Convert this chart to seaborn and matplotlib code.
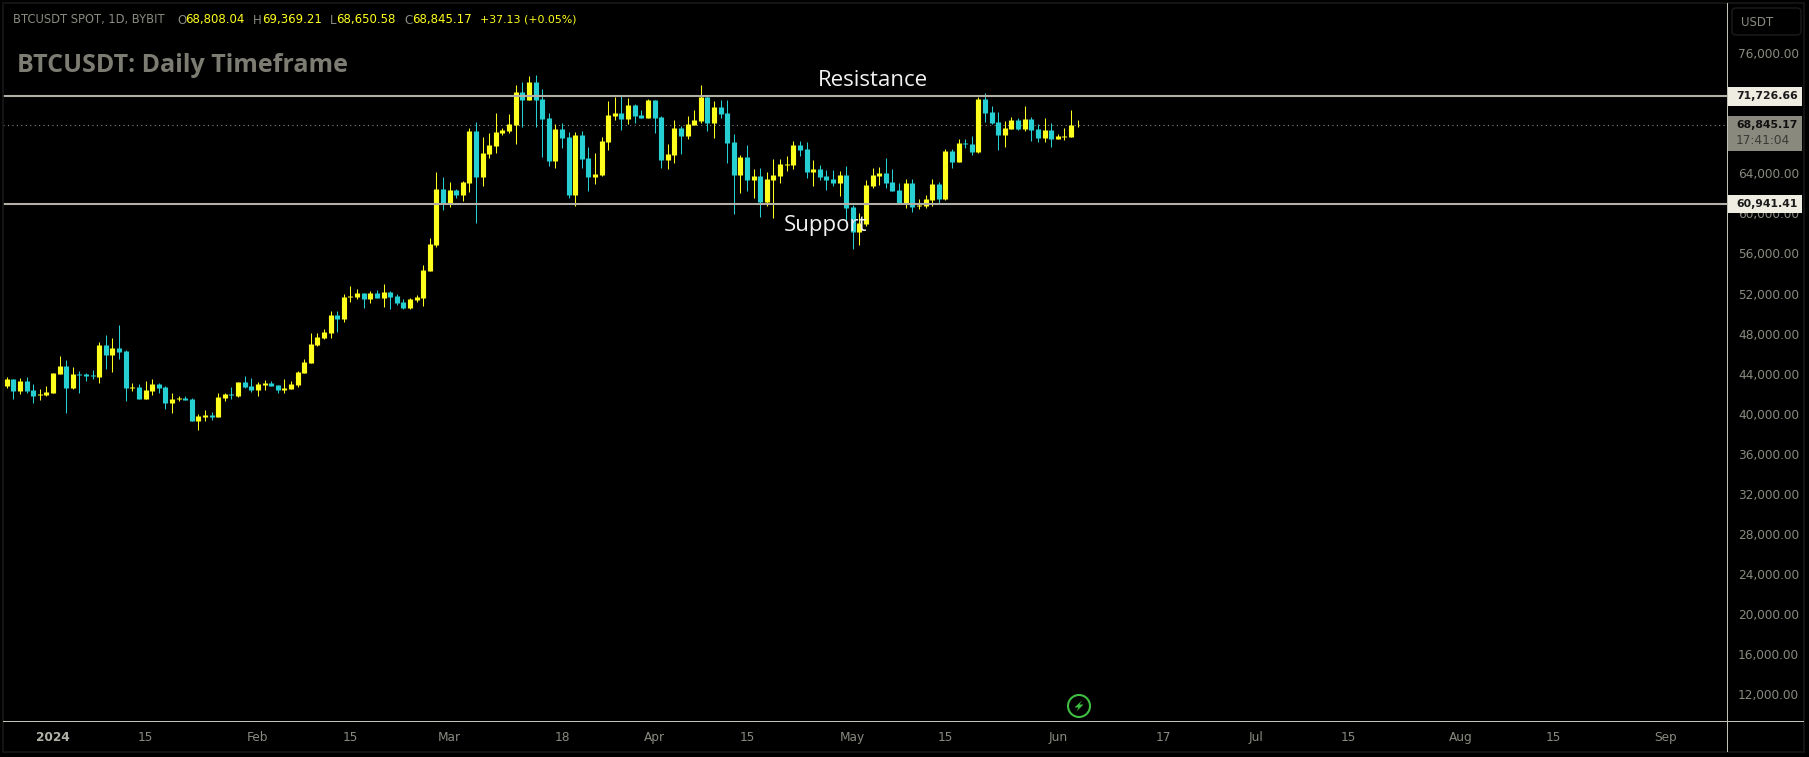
import numpy as np
import pandas as pd
import matplotlib
matplotlib.use("Agg")
import matplotlib.pyplot as plt
from matplotlib.patches import Rectangle, FancyBboxPatch, Circle, Polygon
from matplotlib.transforms import IdentityTransform
import seaborn as sns

# daily candles, 25 Dec 2023 to 4 Jun 2024
opens = [42770,43460,42270,43270,42370,41870,41870,42070,43960,44760,42570,43960,43960,43860,43660,46860,45860,46560,46260,42570,
         42670,41470,42270,42970,42670,41070,41470,41570,41470,39270,39670,39870,39670,41570,41970,41770,43170,42770,42370,42870,
         43070,42870,42370,42470,42870,44060,45060,46860,47560,48060,49860,49460,51650,51650,52050,51450,52050,51550,52150,51750,
         51150,50560,51350,51550,54250,56850,62440,60940,62340,61840,63040,68230,63640,65930,66730,68030,68230,68830,72120,71330,
         73120,71430,69530,65230,68430,67630,61840,67830,65530,63640,63840,67130,69730,70030,69430,70830,69830,69530,71330,69630,
         65330,65830,68530,67730,68830,69230,71630,69030,70630,70030,67130,63840,65630,63340,63740,61140,63340,63740,64830,64830,
         66830,66430,64130,64430,63740,63440,63040,63840,60640,58140,58940,62740,63740,64040,63140,62340,61040,63040,60740,60740,
         61340,62940,61440,66230,65130,67030,66930,66130,71430,70130,69130,67830,68430,69330,68430,69430,68430,67530,68330,67430,
         67630,67630,68808.04]
highs = [43660,43460,43560,43660,42970,42470,42770,44060,45760,45360,44660,44260,44060,44360,47160,47860,47560,48860,46360,43070,
         42970,43270,43460,43070,42770,42070,41770,41770,41570,39970,40370,40170,42070,42070,42670,43170,43760,43560,43170,43360,
         43270,42870,43460,43270,44260,45460,48060,48060,48460,50260,50260,51950,52750,52450,52050,52250,52350,52950,52250,51950,
         51450,51550,51850,54850,57540,64130,63640,63140,62440,63240,68530,69130,67630,68030,70030,68530,69930,72820,73120,73720,
         73820,72420,70030,68930,69030,68130,68130,68230,66630,66030,67630,71230,71630,71820,71530,70930,70330,71430,71330,69730,
         66930,69330,68730,69730,70330,72820,71820,71230,71330,71330,67930,65830,66830,64430,64530,64130,65430,65430,65730,67230,
         67230,67130,65330,64830,64330,64330,64230,64730,60840,60010,63340,64530,64630,65530,64430,63040,63440,63440,61440,61840,
         63440,63140,66430,66430,67430,67430,67730,71630,72020,70730,70130,69230,69630,69530,70730,69630,68930,69530,69030,67930,
         68530,70330,69369.21]
lows = [42570,41470,41970,42070,41070,41370,41770,42070,43960,40070,42470,42070,43270,43460,43070,44460,44160,45460,41270,42270,
        41470,41470,41870,42070,40470,40070,41270,41370,39270,38370,39270,39370,39670,41270,41470,41670,42570,42170,41770,42370,
        42770,42070,42070,42470,42670,44060,45060,46760,47460,47560,48160,49160,51150,51450,50560,51050,51550,50660,50460,50850,
        50460,50460,51150,50750,54250,56650,60340,60640,61540,61240,62140,59040,62740,65530,66030,67830,68030,66930,68630,71330,
        68630,65630,64730,64530,66530,61540,60740,64530,62240,62940,63740,66330,69330,68330,68930,69030,69530,69530,68030,64530,
        64430,65030,65930,67430,68830,69030,68230,67530,69530,65030,59940,62040,62240,61540,59640,60740,59540,63040,64230,64430,
        65730,63540,62740,63340,62340,62740,61740,59340,56450,56850,58740,62540,62840,62540,62240,60940,60540,60140,60440,60540,
        60740,60940,61340,64530,65130,66530,65830,66030,69130,68930,66330,66630,68430,68330,68230,67230,67130,67130,66630,67430,
        67330,67630,68650.58]
closes = [43460,42270,43270,42270,41770,41970,42170,44060,44760,42570,43960,43860,43760,43760,46860,45860,46560,46160,42570,42670,
          41470,42370,42970,42570,41070,41470,41570,41370,39270,39770,39870,39670,41670,41970,41870,43170,42670,42370,42970,43070,
          42770,42370,42570,42970,44160,45160,46960,47660,48160,49860,49460,51650,51750,52050,51450,52050,51550,52150,51650,51050,
          50560,51450,51650,54350,56950,62440,60940,62340,61840,63140,68230,63640,66030,66830,68130,68330,68930,72120,71330,73120,
          71330,69430,65230,68430,67530,61840,67830,65430,63640,63940,67230,69830,70030,69430,70830,69730,69530,71330,69530,65330,
          65930,68530,67730,68930,69330,71630,69030,70630,69930,67030,63840,65630,63340,63740,61140,63440,63840,64930,64930,66830,
          66330,64130,64430,63640,63340,63040,63840,60540,58140,59040,62840,63840,64040,63040,62240,61040,63040,60640,60840,61440,
          62940,61440,66230,65130,67030,66930,66130,71430,70030,69030,67830,68530,69330,68430,69430,68330,67530,68330,67430,67730,
          67730,68830,68845.17]

resistance = 71726.66
support = 60941.41
last_price = 68845.17

price_ticks = [76000,64000,60000,56000,52000,48000,44000,40000,36000,32000,28000,24000,20000,16000,12000]
date_ticks = ["2024-01-01","2024-01-15","2024-02-01","2024-02-15","2024-03-01","2024-03-18","2024-04-01","2024-04-15",
              "2024-05-01","2024-05-15","2024-06-01","2024-06-17","2024-07-01","2024-07-15","2024-08-01","2024-08-15","2024-09-01"]
date_labels = ["2024","15","Feb","15","Mar","18","Apr","15","May","15","Jun","17","Jul","15","Aug","15","Sep"]

W, H = 1809, 757
YELLOW = "#ffff1e"
CYAN = "#26cfd2"
LEVEL = "#b2b0a6"
GREY = "#8a8a80"
FRAME = "#171717"

sns.set_style("dark", {"axes.facecolor": "black", "figure.facecolor": "black", "axes.grid": False})
plt.rcParams['font.family'] = ['DejaVu Sans']

dates = pd.date_range("2023-12-25", periods=len(opens), freq="D")
df = pd.DataFrame({"date": dates, "open": opens, "high": highs, "low": lows, "close": closes})
df["dir"] = np.where(df["close"] >= df["open"], "up", "down")
df["id"] = np.arange(len(df))
df["top"] = df[["open", "close"]].max(axis=1)
df["bottom"] = df[["open", "close"]].min(axis=1)

wicks = df.melt(id_vars=["id", "date", "dir"], value_vars=["low", "high"], value_name="price")
bodies = df.melt(id_vars=["id", "date", "dir"], value_vars=["bottom", "top"], value_name="price")

fig = plt.figure(figsize=(W / 100, H / 100), dpi=100)
ax = fig.add_axes([3 / W, 1 - 721 / H, (1727 - 3) / W, (721 - 3) / H])
ax.set_facecolor("black")

palette = {"up": YELLOW, "down": CYAN}
sns.lineplot(data=wicks, x="date", y="price", hue="dir", palette=palette, units="id", estimator=None,
             sort=False, linewidth=0.75, legend=False, ax=ax, solid_capstyle="butt", zorder=3)
sns.lineplot(data=bodies, x="date", y="price", hue="dir", palette=palette, units="id", estimator=None,
             sort=False, linewidth=3.7, legend=False, ax=ax, solid_capstyle="butt", zorder=4)

ax.axhline(resistance, color=LEVEL, linewidth=1.5, zorder=5)
ax.axhline(support, color=LEVEL, linewidth=1.5, zorder=5)
ax.axhline(last_price, color=GREY, linewidth=0.8, linestyle=(0, (1, 3)), zorder=2)

# price scale is linear, anchored on the two level labels
px_per_price = (204 - 96) / (resistance - support)
ax.set_ylim(resistance - (721 - 96) / px_per_price, resistance + (96 - 3) / px_per_price)
day_px = 6.61
jan1 = pd.Timestamp("2024-01-01")
ax.set_xlim(jan1 + pd.Timedelta(days=(3 - 53) / day_px), jan1 + pd.Timedelta(days=(1727 - 53) / day_px))

ax.yaxis.tick_right()
ax.set_yticks(price_ticks)
ax.set_yticklabels([f"{p:,.2f}" for p in price_ticks], fontsize=8.7, color=GREY)
ax.set_xticks(pd.to_datetime(date_ticks))
ax.set_xticklabels(date_labels, fontsize=8.7, color=GREY)
ax.get_xticklabels()[0].set_fontweight("bold")
ax.get_xticklabels()[0].set_color("#b4b3a9")
ax.tick_params(axis="y", length=0, pad=8, right=True, labelright=True)
ax.tick_params(axis="x", length=0, pad=7)
ax.set_xlabel("")
ax.set_ylabel("")
for side in ["top", "left", "right", "bottom"]:
    ax.spines[side].set_visible(False)


def px_text(x, y, s, **kw):
    kw.setdefault("va", "center")
    kw.setdefault("ha", "left")
    fig.text(x / W, 1 - y / H, s, **kw)


def px_rect(x0, y0, x1, y1, **kw):
    fig.add_artist(Rectangle((x0, H - y1), x1 - x0, y1 - y0, transform=IdentityTransform(), linewidth=0, **kw))


# thin outer frame and the scale separators
fig.add_artist(Rectangle((3, H - 752), 1801, 749, transform=IdentityTransform(), facecolor="none", edgecolor=FRAME, linewidth=1.2))
px_rect(3, 720.5, 1804, 721.5, color="#c4c2b7")
px_rect(1727, 3, 1728, 752, color="#c4c2b7")

# legend line at the top
px_text(13, 20, "BTCUSDT SPOT, 1D, BYBIT", color=GREY, fontsize=8.3)
for x, s, c in [(177, "O", GREY), (185, "68,808.04", YELLOW), (253, "H", GREY), (262, "69,369.21", YELLOW),
                (330, "L", GREY), (336, "68,650.58", YELLOW), (404, "C", GREY), (412, "68,845.17", YELLOW)]:
    px_text(x, 20, s, color=c, fontsize=8.5)
px_text(480, 20, "+37.13 (+0.05%)", color=YELLOW, fontsize=7.9)

px_text(17, 65, "BTCUSDT: Daily Timeframe", color="#7d7c72", fontsize=18, family="Open Sans", weight="bold")
px_text(873, 81, "Resistance", color="#f2f2f2", fontsize=16, family="Open Sans", ha="center")
px_text(826, 225, "Support", color="#f2f2f2", fontsize=16, family="Open Sans", ha="center")

# USDT button
fig.add_artist(FancyBboxPatch((1732, H - 35), 69, 27, boxstyle="round,pad=0,rounding_size=4", transform=IdentityTransform(),
                              facecolor="black", edgecolor="#1c1c1c", linewidth=1))
px_text(1757, 22, "USDT", color=GREY, fontsize=8.5, ha="center")

# price tags on the scale
px_rect(1728, 87, 1802, 105.5, color="#efece2")
px_text(1736, 96, f"{resistance:,.2f}", color="#1a1a1a", fontsize=7.8, weight="bold")
px_rect(1728, 116, 1802, 150.5, color="#8a897d")
px_text(1736, 125, f"{last_price:,.2f}", color="#111111", fontsize=7.8, weight="bold")
px_text(1736, 140, "17:41:04", color="#3a3a36", fontsize=8.7)
px_rect(1728, 195, 1802, 213, color="#efece2")
px_text(1736, 204, f"{support:,.2f}", color="#1a1a1a", fontsize=7.8, weight="bold")

# green bolt marker
fig.add_artist(Circle((1079, H - 706), 11, transform=IdentityTransform(), facecolor="black", edgecolor="#3fbf3f", linewidth=1.5))
bolt = [(1082, 700.5), (1074.5, 707.5), (1078.5, 707.5), (1076.5, 711.5), (1083.5, 704.5), (1079.5, 704.5)]
fig.add_artist(Polygon([(x, H - y) for x, y in bolt], closed=True, transform=IdentityTransform(), facecolor="#3fbf3f", linewidth=0))

fig.savefig("out.png", dpi=100, facecolor="black")
